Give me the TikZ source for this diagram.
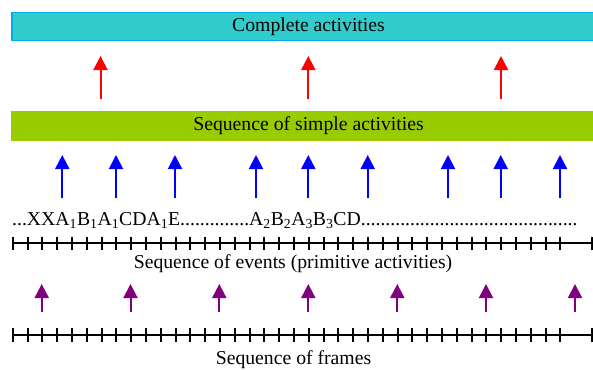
\documentclass[tikz,border=0pt]{standalone}
\usepackage{fontspec}
\setmainfont{Liberation Serif}
\usetikzlibrary{arrows.meta}
\definecolor{barcyan}{HTML}{33CCCC}
\definecolor{barlime}{HTML}{99CC00}
\definecolor{framepurple}{HTML}{800080}

\begin{document}
\begin{tikzpicture}[x=1pt,y=-1pt,
    every node/.style={font=\fontsize{19.7}{23}\selectfont, inner sep=0pt},
    bar/.style={minimum width=593pt, minimum height=28pt, line width=1.5pt},
    up/.style={line width=2pt, -{Triangle[length=14pt,width=14pt]}},
    tick/.style={line width=2pt}]
    \useasboundingbox (0,0) rectangle (593,369);

    \node[bar, draw=cyan, fill=barcyan] (complete) at (308.5,26.4) {Complete activities};
    \node[bar, draw=barlime, fill=barlime] (simple) at (308.5,126) {Sequence of simple activities};

    \foreach \x [count=\i] in {100.5,308.3,501} {
        \coordinate (r\i) at (\x,99);
        \coordinate (rt\i) at (\x,56);
        \draw[up,red] (r\i) -- (rt\i);
    }
    \foreach \x [count=\i] in {62.3,116,175,256,308.3,367.7,448,500.7,560} {
        \coordinate (b\i) at (\x,198.3);
        \coordinate (bt\i) at (\x,155);
        \draw[up,blue] (b\i) -- (bt\i);
    }
    \foreach \x [count=\i] in {41.7,130.5,219.3,308.3,397.3,486,575} {
        \coordinate (p\i) at (\x,312.3);
        \coordinate (pt\i) at (\x,284);
        \draw[up,framepurple] (p\i) -- (pt\i);
    }

    \node[anchor=base west] (events) at (12,225) {...XXA\textsubscript{1}B\textsubscript{1}A\textsubscript{1}CDA\textsubscript{1}E..............A\textsubscript{2}B\textsubscript{2}A\textsubscript{3}B\textsubscript{3}CD............................................};

    \coordinate (ev0) at (12.7,243.3);
    \coordinate (ev1) at (592,243.3);
    \draw[tick] (ev0) -- (ev1);
    \foreach \k in {0,...,37}
        \draw[tick] (12.7+14.8*\k,236.7) -- ++(0,13.3);
    \draw[tick] (592,236.7) -- ++(0,13.3);
    \node[anchor=base] (evlabel) at (293,268) {Sequence of events (primitive activities)};

    \coordinate (fr0) at (12.7,335.3);
    \coordinate (fr1) at (592,335.3);
    \draw[tick] (fr0) -- (fr1);
    \foreach \k in {0,...,37}
        \draw[tick] (12.7+14.8*\k,328.3) -- ++(0,14);
    \draw[tick] (592,328.3) -- ++(0,14);
    \node[anchor=base] (frlabel) at (293.5,364) {Sequence of frames};
\end{tikzpicture}
\end{document}
